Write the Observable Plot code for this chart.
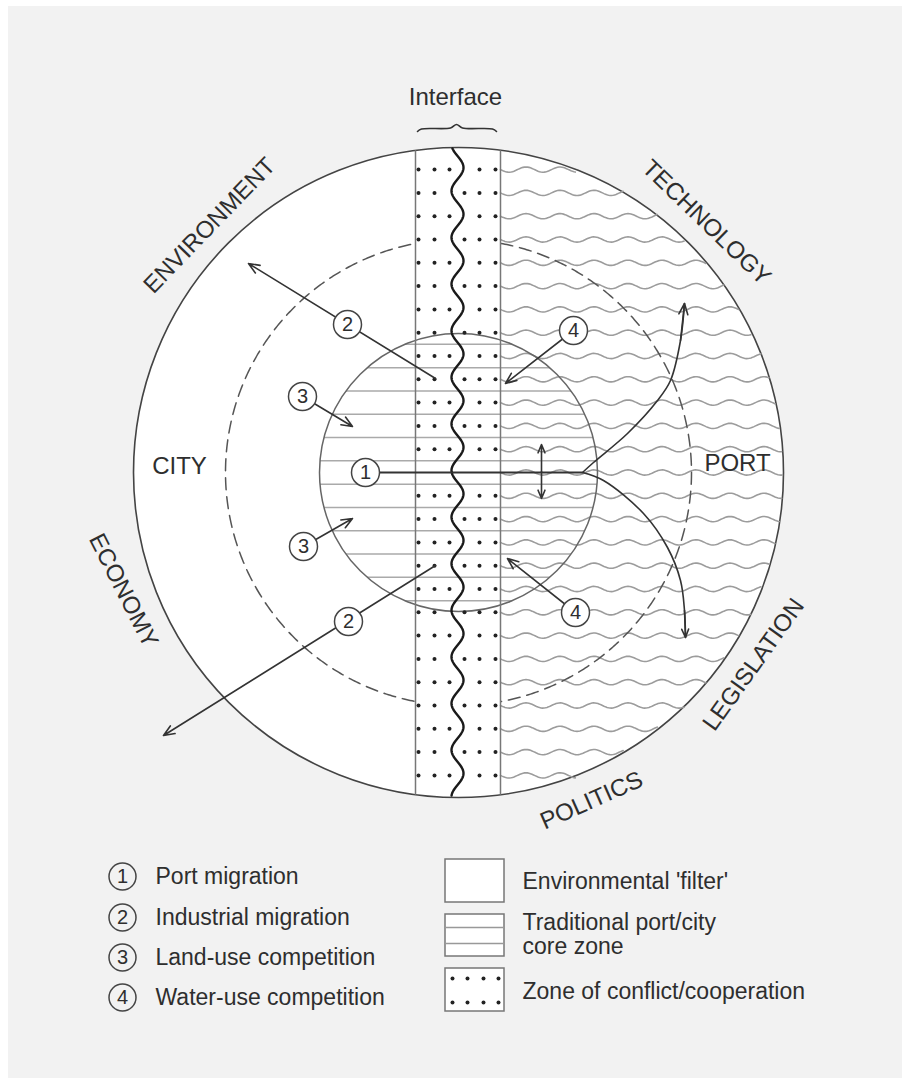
<!DOCTYPE html>
<html>
<head>
<meta charset="utf-8">
<script src="https://cdn.jsdelivr.net/npm/d3@7"></script>
<script src="https://cdn.jsdelivr.net/npm/@observablehq/plot@0.6"></script>
<style>
  html, body { margin: 0; padding: 0; background: #ffffff; }
  body { padding: 6px 0 0 8px; }
</style>
</head>
<body>
<div id="chart"></div>
<script>
// ---------- diagram data ----------
const center = {x: 458, y: 472};
const rings = {outer: 325, dashed: 233, core: 139};
const rowStep = 23.3;
const bandEdges = [415, 500];
const interfaceWave = {x: 457, amp: 6, y0: 446.7};
const dotColumns = [418, 434, 449, 464, 479, 495];

const sectorLabels = [
  {text: "ENVIRONMENT", x: 209, y: 225, rotate: -46},
  {text: "TECHNOLOGY", x: 706, y: 222, rotate: 44},
  {text: "ECONOMY", x: 123, y: 590, rotate: 63},
  {text: "LEGISLATION", x: 753, y: 664, rotate: -54.5},
  {text: "POLITICS", x: 591, y: 800, rotate: -24}
];
const zoneLabels = [
  {text: "CITY", x: 179, y: 466},
  {text: "PORT", x: 737, y: 463},
  {text: "Interface", x: 455, y: 97}
];
const bracePts = [
  {x: 417, y: 131}, {x: 421, y: 128.5}, {x: 450, y: 127.5}, {x: 456, y: 124},
  {x: 462, y: 127.5}, {x: 492, y: 128.5}, {x: 496, y: 131}
];

const numberMarkers = [
  {n: "1", x: 365, y: 472},
  {n: "2", x: 347, y: 324},
  {n: "2", x: 348, y: 621},
  {n: "3", x: 302, y: 396},
  {n: "3", x: 303, y: 546},
  {n: "4", x: 573, y: 330},
  {n: "4", x: 575, y: 612}
];
const straightArrows = [
  {x1: 435, y1: 378, x2: 248, y2: 263},
  {x1: 435, y1: 565, x2: 163, y2: 735},
  {x1: 302, y1: 396, x2: 352, y2: 426},
  {x1: 303, y1: 546, x2: 352, y2: 518},
  {x1: 573, y1: 330, x2: 505, y2: 383},
  {x1: 575, y1: 612, x2: 507, y2: 558},
  // vertical double arrow (both halves from its middle)
  {x1: 541, y1: 471, x2: 541, y2: 444},
  {x1: 541, y1: 471, x2: 541, y2: 498}
];
const portMigrationLine = [{x1: 365, y1: 472, x2: 582, y2: 472}];
const curveUp = [
  {x: 582, y: 472}, {x: 593, y: 462}, {x: 627, y: 433}, {x: 657, y: 400},
  {x: 670, y: 380}, {x: 680, y: 340}, {x: 684, y: 303}
];
const curveDown = [
  {x: 582, y: 472}, {x: 603, y: 480}, {x: 643, y: 513}, {x: 667, y: 547},
  {x: 680, y: 580}, {x: 684, y: 610}, {x: 685, y: 637}
];

// legend
const legendNumbers = [
  {n: "1", label: "Port migration", x: 122, y: 876},
  {n: "2", label: "Industrial migration", x: 122, y: 917},
  {n: "3", label: "Land-use competition", x: 122, y: 957},
  {n: "4", label: "Water-use competition", x: 122, y: 997}
];
const legendBoxes = [
  {x1: 445, y1: 859, x2: 504, y2: 902},
  {x1: 445, y1: 914, x2: 504, y2: 956},
  {x1: 445, y1: 968, x2: 504, y2: 1011}
];
const legendBoxLabels = [
  {text: "Environmental 'filter'", x: 522, y: 881},
  {text: "Traditional port/city\ncore zone", x: 522, y: 934},
  {text: "Zone of conflict/cooperation", x: 522, y: 991}
];
const legendHatch = [{y: 927}, {y: 943}];
const legendDotRows = [978, 1002];
const legendDotCols = [452, 467, 483, 498];

// ---------- derived geometry ----------
const {x: CX, y: CY} = center;
const R = rings.outer;
const halfChord = (r, d) => Math.sqrt(Math.max(0, r * r - d * d));

// core-zone hatch lines (clipped to core circle)
const hatch = [];
for (let j = -7; j <= 6; j++) {
  const y = CY + (j + 0.5) * rowStep;
  const h = halfChord(rings.core, y - CY);
  if (h > 2) hatch.push({x1: CX - h, x2: CX + h, y1: y, y2: y});
}

// port water waves
const portWaves = [];
for (let k = -13; k <= 13; k++) {
  const y = CY + k * rowStep;
  const xr = CX + halfChord(R, y - CY) - 1;
  for (let x = bandEdges[1]; x <= xr; x += 1.5) {
    portWaves.push({k, x, y: y + 2.6 * Math.sin(2 * Math.PI * (x - bandEdges[1]) / 34)});
  }
  portWaves.push({k, x: xr, y: y + 2.6 * Math.sin(2 * Math.PI * (xr - bandEdges[1]) / 34)});
}

// dashed ring, hidden in the band
const dashPts = [];
for (let a = -90; a <= 270; a += 0.5) {
  const t = a * Math.PI / 180;
  const x = CX + rings.dashed * Math.cos(t), y = CY + rings.dashed * Math.sin(t);
  if (x < bandEdges[0]) dashPts.push({side: "L", x, y});
  else if (x > bandEdges[1]) dashPts.push({side: "R", x, y});
}

// band edge lines
const bandLines = bandEdges.map(x => {
  const h = halfChord(R, x - CX);
  return {x1: x, x2: x, y1: CY - h, y2: CY + h};
});

// interface wave
const waveX = y => interfaceWave.x + interfaceWave.amp * Math.cos(Math.PI * (y - interfaceWave.y0) / rowStep);
const interfacePts = [];
{
  const h = halfChord(R, interfaceWave.x - CX);
  for (let y = CY - h + 1; y <= CY + h - 1; y += 1) interfacePts.push({x: waveX(y), y});
}

// conflict-zone dots
const bandDots = [];
for (let k = -14; k <= 14; k++) {
  if (k === 0) continue;
  const y = CY + k * rowStep;
  for (const x of dotColumns) {
    const h = halfChord(R, x - CX);
    if (Math.abs(y - CY) > h - 6) continue;
    if (Math.abs(x - waveX(y)) < 9) continue;
    bandDots.push({x, y});
  }
}

const legendDots = [];
for (const y of legendDotRows) for (const x of legendDotCols) legendDots.push({x, y});

// arrowheads for the curved arrows: last segment of each curve
const curveHeads = [curveUp, curveDown].map(c => {
  const a = c[c.length - 2], b = c[c.length - 1];
  return {x1: a.x, y1: a.y, x2: b.x, y2: b.y};
});

const font = "'Liberation Sans', Arial, Helvetica, sans-serif";
const ink = "#2e2e2e";

const chart = Plot.plot({
  width: 894,
  height: 1072,
  margin: 0,
  x: {domain: [8, 902], range: [0, 894], axis: null},
  y: {domain: [6, 1078], range: [0, 1072], axis: null},
  style: {background: "#f2f2f2", fontFamily: font, color: ink},
  marks: [
    // outer circle
    Plot.dot([center], {x: "x", y: "y", r: rings.outer, fill: "white", stroke: "#444", strokeWidth: 1.6}),
    // hatch
    Plot.link(hatch, {x1: "x1", y1: "y1", x2: "x2", y2: "y2", stroke: "#aaa", strokeWidth: 1.5}),
    // port waves
    Plot.line(portWaves, {x: "x", y: "y", z: "k", stroke: "#9c9c9c", strokeWidth: 1.6}),
    // dashed ring
    Plot.line(dashPts, {x: "x", y: "y", z: "side", stroke: "#555", strokeWidth: 1.5, strokeDasharray: "12,7"}),
    // core circle
    Plot.dot([center], {x: "x", y: "y", r: rings.core, fill: "none", stroke: "#666", strokeWidth: 1.5}),
    // band edges
    Plot.link(bandLines, {x1: "x1", y1: "y1", x2: "x2", y2: "y2", stroke: "#777", strokeWidth: 1.5}),
    // dots
    Plot.dot(bandDots, {x: "x", y: "y", r: 2, fill: "#222"}),
    // interface wave
    Plot.line(interfacePts, {x: "x", y: "y", stroke: "#1a1a1a", strokeWidth: 2.4}),
    // arrows
    Plot.arrow(straightArrows, {x1: "x1", y1: "y1", x2: "x2", y2: "y2", stroke: "#333", strokeWidth: 1.6, headLength: 11, headAngle: 45}),
    Plot.link(portMigrationLine, {x1: "x1", y1: "y1", x2: "x2", y2: "y2", stroke: "#333", strokeWidth: 1.8}),
    Plot.line(curveUp, {x: "x", y: "y", stroke: "#333", strokeWidth: 1.6, curve: "catmull-rom"}),
    Plot.line(curveDown, {x: "x", y: "y", stroke: "#333", strokeWidth: 1.6, curve: "catmull-rom"}),
    Plot.arrow(curveHeads, {x1: "x1", y1: "y1", x2: "x2", y2: "y2", stroke: "#333", strokeWidth: 1.6, headLength: 11, headAngle: 45}),
    // numbered circles
    Plot.dot(numberMarkers, {x: "x", y: "y", r: 14, fill: "white", stroke: "#444", strokeWidth: 1.5}),
    Plot.text(numberMarkers, {x: "x", y: "y", text: "n", fontSize: 20, fill: ink}),
    // sector labels
    Plot.text(sectorLabels, {x: "x", y: "y", text: "text", rotate: "rotate", fontSize: 24, fill: ink}),
    Plot.text(zoneLabels, {x: "x", y: "y", text: "text", fontSize: 24, fill: ink}),
    Plot.line(bracePts, {x: "x", y: "y", stroke: "#333", strokeWidth: 1.6, curve: "catmull-rom"}),
    // legend: numbers
    Plot.dot(legendNumbers, {x: "x", y: "y", r: 13.5, fill: "none", stroke: "#444", strokeWidth: 1.5}),
    Plot.text(legendNumbers, {x: "x", y: "y", text: "n", fontSize: 20, fill: ink}),
    Plot.text(legendNumbers, {x: 155, y: "y", text: "label", textAnchor: "start", fontSize: 23, fill: ink}),
    // legend: boxes
    Plot.rect(legendBoxes, {x1: "x1", y1: "y1", x2: "x2", y2: "y2", fill: "white", stroke: "#777", strokeWidth: 1.5}),
    Plot.link(legendHatch, {x1: 445, x2: 504, y1: "y", y2: "y", stroke: "#999", strokeWidth: 1.5}),
    Plot.dot(legendDots, {x: "x", y: "y", r: 2, fill: "#222"}),
    Plot.text(legendBoxLabels, {x: "x", y: "y", text: "text", textAnchor: "start", fontSize: 23, lineHeight: 1.05, fill: ink})
  ]
});
document.getElementById("chart").appendChild(chart);
</script>
</body>
</html>
